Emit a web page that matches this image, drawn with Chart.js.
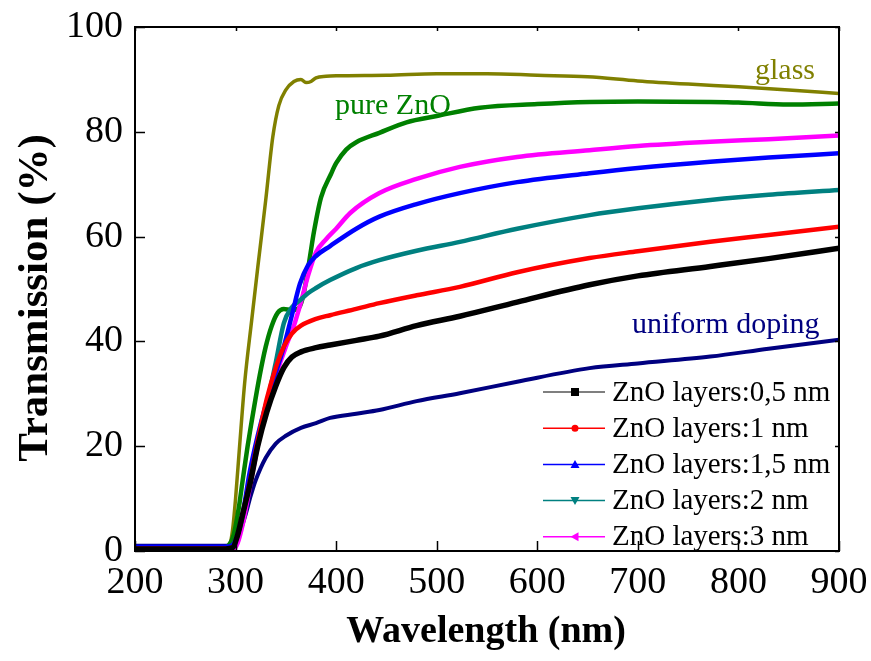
<!DOCTYPE html>
<html>
<head>
<meta charset="utf-8">
<title>Transmission spectra</title>
<script src="https://cdn.jsdelivr.net/npm/chart.js@4.4.1/dist/chart.umd.min.js"></script>
<style>
  body { margin: 0; background: #fff; }
  #wrap { width: 871px; height: 661px; }
</style>
</head>
<body>
<div id="wrap"><canvas id="myChart" width="871" height="661"></canvas></div>
<script>
'use strict';

// wavelength (nm) / transmission (%)
let glass_wl = [200, 250, 290, 294, 297, 300, 304, 309, 316, 322, 330, 337, 343, 350, 358, 365, 370, 375, 380, 390, 400, 450, 500, 550, 600, 650, 700, 750, 800, 850, 900];
let glass_t = [0.9, 0.9, 0.9, 1.2, 4, 10, 20, 32, 44, 54, 67, 79, 85, 88, 89.6, 90, 89.4, 89.6, 90.3, 90.6, 90.7, 90.8, 91.1, 91.1, 90.8, 90.5, 89.7, 89.1, 88.6, 88.0, 87.3];

let pure_wl = [200, 250, 288, 293, 298, 303, 307, 312, 318, 324, 330, 336, 342, 348, 355, 362, 367, 373, 378, 385, 395, 400, 410, 420, 443, 470, 500, 543, 600, 652, 700, 772, 800, 850, 900];
let pure_t = [0.6, 0.6, 0.6, 1, 3, 8, 13.4, 20, 27, 33.5, 39, 43, 45.5, 46.2, 46, 46.2, 48.5, 55, 61, 67.5, 72, 74, 76.6, 78, 79.8, 81.8, 83, 84.6, 85.3, 85.7, 85.8, 85.7, 85.6, 85.2, 85.4];

let unif_wl = [200, 250, 290, 296, 300, 305, 310, 315, 320, 330, 340, 350, 365, 380, 394, 420, 443, 480, 523, 580, 652, 700, 772, 830, 900];
let unif_t = [1.0, 1.0, 1.0, 1.1, 1.8, 4, 7, 10.5, 13.5, 17.8, 20.5, 22, 23.5, 24.4, 25.4, 26.2, 26.9, 28.6, 30.1, 32.3, 34.9, 35.8, 37.1, 38.6, 40.3];

let l05_wl = [200, 290, 297, 302, 307, 314, 322, 331, 340, 348, 356, 365, 380, 394, 420, 443, 480, 523, 580, 652, 700, 772, 830, 900];
let l05_t = [0.4, 0.4, 0.6, 3, 7, 12.5, 20, 26.5, 31.5, 35, 37, 38, 38.8, 39.3, 40.2, 41, 43, 44.8, 47.5, 50.8, 52.5, 54.3, 55.8, 57.8];

let l1_wl = [200, 290, 297, 302, 307, 314, 322, 331, 340, 348, 356, 365, 380, 394, 420, 443, 480, 523, 580, 652, 700, 772, 830, 900];
let l1_t = [0.5, 0.5, 0.7, 3, 7, 13, 21, 29, 35, 39, 41.5, 43, 44.3, 45, 46.2, 47.3, 48.8, 50.4, 53.2, 55.9, 57.2, 59, 60.3, 61.9];

let l15_wl = [200, 290, 296, 300, 307, 314, 322, 331, 340, 348, 356, 364, 372, 380, 394, 420, 443, 480, 523, 580, 652, 700, 772, 830, 900];
let l15_t = [0.8, 0.8, 1, 2, 7, 15, 22, 28.5, 34, 39, 45, 51, 54.5, 56.3, 58.2, 61.5, 63.8, 66.2, 68.3, 70.4, 72.1, 73.1, 74.3, 75.1, 75.9];

let l2_wl = [200, 290, 297, 301, 307, 314, 322, 331, 340, 348, 356, 365, 372, 380, 394, 420, 443, 480, 523, 580, 652, 700, 772, 830, 900];
let l2_t = [0.7, 0.7, 1, 2.5, 6.5, 14, 21, 28, 36, 43.5, 46.5, 48, 49.2, 50.2, 51.7, 54, 55.5, 57.3, 59, 61.5, 64.1, 65.4, 67, 68, 68.9];

let l3_wl = [200, 290, 298, 302, 307, 315, 322, 330, 340, 350, 358, 365, 372, 380, 390, 400, 414, 443, 480, 523, 580, 652, 700, 772, 830, 900];
let l3_t = [0.3, 0.3, 0.4, 1.5, 5, 13, 20, 27.5, 33.5, 39, 43, 47.5, 52.5, 57, 59.5, 61.5, 64.5, 68.3, 71, 73.3, 75.2, 76.5, 77.3, 78.1, 78.6, 79.3];

let legend_labels = ['ZnO layers:0,5 nm', 'ZnO layers:1 nm', 'ZnO layers:1,5 nm', 'ZnO layers:2 nm', 'ZnO layers:3 nm'];
let x_ticks = [200, 300, 400, 500, 600, 700, 800, 900];
let y_ticks = [0, 20, 40, 60, 80, 100];

let serif = '"Liberation Serif", "Times New Roman", serif';

function to_points(wl, t) {
  let pts = [];
  for (let i = 0; i < wl.length; i++) {
    pts.push({x: wl[i], y: t[i]});
  }
  return pts;
}

function series(label, wl, t, color, width) {
  return {
    label: label,
    data: to_points(wl, t),
    borderColor: color,
    backgroundColor: color,
    borderWidth: width,
    pointRadius: 0,
    cubicInterpolationMode: 'monotone',
    showLine: true
  };
}

let datasets = [
  series(legend_labels[0], l05_wl, l05_t, '#000000', 5.5),
  series(legend_labels[1], l1_wl, l1_t, '#ff0000', 4.5),
  series(legend_labels[2], l15_wl, l15_t, '#0000ff', 4.5),
  series(legend_labels[3], l2_wl, l2_t, '#008080', 4.5),
  series(legend_labels[4], l3_wl, l3_t, '#ff00ff', 4.5),
  series('pure ZnO', pure_wl, pure_t, '#008000', 4.5),
  series('uniform doping', unif_wl, unif_t, '#000080', 4),
  series('glass', glass_wl, glass_t, '#808000', 3.5)
];

let legend_line = ['#555555', '#ff0000', '#0000ff', '#008080', '#ff00ff'];
let legend_marker = ['square', 'circle', 'up', 'down', 'left'];

function marker(ctx, kind, x, y, color) {
  ctx.fillStyle = color;
  ctx.beginPath();
  if (kind === 'square') {
    ctx.rect(x - 4, y - 4, 8, 8);
  } else if (kind === 'circle') {
    ctx.arc(x, y, 3.5, 0, Math.PI * 2);
  } else if (kind === 'up') {
    ctx.moveTo(x, y - 4.5); ctx.lineTo(x + 4.5, y + 3.5); ctx.lineTo(x - 4.5, y + 3.5);
  } else if (kind === 'down') {
    ctx.moveTo(x, y + 4.5); ctx.lineTo(x + 4.5, y - 3.5); ctx.lineTo(x - 4.5, y - 3.5);
  } else {
    ctx.moveTo(x - 4.5, y); ctx.lineTo(x + 3.5, y - 4.5); ctx.lineTo(x + 3.5, y + 4.5);
  }
  ctx.closePath();
  ctx.fill();
}

let decor = {
  id: 'decor',
  afterDraw(chart) {
    let ctx = chart.ctx;
    let a = chart.chartArea;
    let xs = chart.scales.x;
    let ys = chart.scales.y;
    ctx.save();

    // frame + inward ticks
    ctx.strokeStyle = '#000';
    ctx.lineWidth = 2;
    ctx.strokeRect(a.left, a.top, a.right - a.left, a.bottom - a.top);
    ctx.lineWidth = 1.5;
    ctx.beginPath();
    for (let v of x_ticks) {
      let px = Math.round(xs.getPixelForValue(v)) + 0.5;
      ctx.moveTo(px, a.bottom); ctx.lineTo(px, a.bottom - 10);
      ctx.moveTo(px, a.top); ctx.lineTo(px, a.top + 4);
    }
    for (let v of y_ticks) {
      let py = Math.round(ys.getPixelForValue(v)) + 0.5;
      ctx.moveTo(a.left, py); ctx.lineTo(a.left + 10, py);
      ctx.moveTo(a.right, py); ctx.lineTo(a.right - 4, py);
    }
    ctx.stroke();

    // axis titles
    ctx.fillStyle = '#000';
    ctx.textAlign = 'center';
    ctx.textBaseline = 'middle';
    ctx.font = 'bold 38px ' + serif;
    ctx.fillText('Wavelength (nm)', 486, 632);
    ctx.save();
    ctx.translate(36, 298);
    ctx.rotate(-Math.PI / 2);
    ctx.font = 'bold 43px ' + serif;
    ctx.fillText('Transmission (%)', 0, 0);
    ctx.restore();

    // curve labels
    ctx.font = '30px ' + serif;
    ctx.textAlign = 'left';
    ctx.fillStyle = '#808000';
    ctx.fillText('glass', 755, 71);
    ctx.fillStyle = '#008000';
    ctx.fillText('pure ZnO', 335, 106);
    ctx.fillStyle = '#000080';
    ctx.fillText('uniform doping', 632, 325);

    // legend
    ctx.font = '29px ' + serif;
    for (let i = 0; i < legend_labels.length; i++) {
      let y = 392 + i * 36.2;
      ctx.strokeStyle = legend_line[i];
      ctx.lineWidth = 1.5;
      ctx.beginPath();
      ctx.moveTo(543, y); ctx.lineTo(605, y);
      ctx.stroke();
      marker(ctx, legend_marker[i], 575, y, datasets[i].borderColor);
      ctx.fillStyle = '#000';
      ctx.fillText(legend_labels[i], 612, y + 1);
    }
    ctx.restore();
  }
};

let ctx = document.getElementById('myChart').getContext('2d');
let myChart = new Chart(ctx, {
  type: 'scatter',
  data: { datasets: datasets },
  options: {
    responsive: false,
    animation: false,
    devicePixelRatio: 1,
    layout: { padding: { left: 0, top: 27, right: 32, bottom: 0 } },
    plugins: {
      legend: { display: false },
      tooltip: { enabled: false }
    },
    scales: {
      x: {
        type: 'linear',
        min: 200,
        max: 900,
        afterFit: function (scale) {
          scale.height = 110;
          scale.paddingLeft = 0;
          scale.paddingRight = 0;
        },
        afterBuildTicks: function (scale) { scale.ticks = x_ticks.map(v => ({value: v})); },
        grid: { display: false, drawTicks: false },
        border: { display: false },
        ticks: { color: '#000', padding: 9, font: { family: serif, size: 38 } }
      },
      y: {
        type: 'linear',
        min: 0,
        max: 100,
        afterFit: function (scale) {
          scale.width = 135;
          scale.paddingTop = 0;
          scale.paddingBottom = 0;
        },
        afterBuildTicks: function (scale) { scale.ticks = y_ticks.map(v => ({value: v})); },
        grid: { display: false, drawTicks: false },
        border: { display: false },
        ticks: { color: '#000', padding: 12, font: { family: serif, size: 38 } }
      }
    }
  },
  plugins: [decor]
});
</script>
</body>
</html>
